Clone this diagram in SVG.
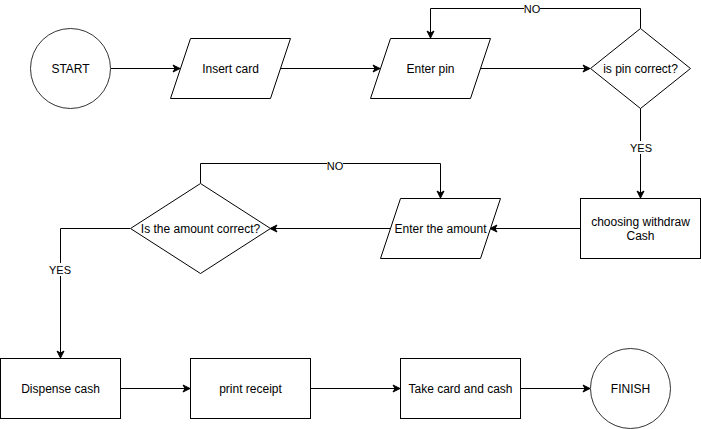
<svg xmlns="http://www.w3.org/2000/svg" width="701" height="429" viewBox="0 0 701 429">
<defs>
<marker id="arr" markerWidth="10" markerHeight="10" refX="8" refY="5" orient="auto" markerUnits="userSpaceOnUse">
<path d="M1,1.5 L8,5 L1,8.5 L3,5 Z" fill="#000" stroke="#000" stroke-width="1"/>
</marker>
</defs>
<style>
.shape{fill:#fff;stroke:#000;stroke-width:1}
.circ{fill:#fff;stroke:#333;stroke-width:1}
.t{font-family:"Liberation Sans",Arial,sans-serif;font-size:12px;fill:#000;text-anchor:middle;dominant-baseline:central}
.lbl{font-family:"Liberation Sans",Arial,sans-serif;font-size:11px;fill:#000;text-anchor:middle;dominant-baseline:central}
.c{fill:none;stroke:#000;stroke-width:1;marker-end:url(#arr)}
.bg{fill:#fff}
</style>
<rect width="701" height="429" fill="#fff"/>
<g id="connectors">
<path class="c" d="M110.5,68.5 L180,68.5"/>
<path class="c" d="M280,68.5 L380,68.5"/>
<path class="c" d="M480,68.5 L590,68.5"/>
<path class="c" d="M640.5,28 L640.5,8.5 L430.5,8.5 L430.5,38"/>
<path class="c" d="M640.5,108 L640.5,198"/>
<path class="c" d="M580,228.5 L490,228.5"/>
<path class="c" d="M390,228.5 L270,228.5"/>
<path class="c" d="M200.5,183 L200.5,163.5 L440.5,163.5 L440.5,198"/>
<path class="c" d="M130,228.5 L60.5,228.5 L60.5,358"/>
<path class="c" d="M120.5,388.5 L190,388.5"/>
<path class="c" d="M310.5,388.5 L400,388.5"/>
<path class="c" d="M520.5,388.5 L590,388.5"/>
<rect class="bg" x="524" y="2" width="16" height="13"/>
<text class="lbl" x="532" y="8.5">NO</text>
<rect class="bg" x="630" y="141" width="22" height="13"/>
<text class="lbl" x="641" y="147.5">YES</text>
<rect class="bg" x="327" y="157" width="16" height="13"/>
<text class="lbl" x="335" y="166">NO</text>
<rect class="bg" x="49" y="263" width="22" height="13"/>
<text class="lbl" x="60" y="269.5">YES</text>
</g>
<g id="start">
<circle class="circ" cx="70.5" cy="68.5" r="40"/>
<text class="t" x="70.5" y="68.5">START</text>
</g>
<g id="insert-card">
<polygon class="shape" points="190.5,38.5 290.5,38.5 270.5,98.5 170.5,98.5"/>
<text class="t" x="230.5" y="68.5">Insert card</text>
</g>
<g id="enter-pin">
<polygon class="shape" points="390.5,38.5 490.5,38.5 470.5,98.5 370.5,98.5"/>
<text class="t" x="430.5" y="68.5">Enter pin</text>
</g>
<g id="pin-correct">
<polygon class="shape" points="640.5,28.5 690.5,68.5 640.5,108.5 590.5,68.5"/>
<text class="t" x="640.5" y="68.5">is pin correct?</text>
</g>
<g id="withdraw">
<rect class="shape" x="580.5" y="198.5" width="120" height="60"/>
<text class="t" x="640.5" y="221.5">choosing withdraw</text>
<text class="t" x="640.5" y="235.5">Cash</text>
</g>
<g id="enter-amount">
<polygon class="shape" points="400.5,198.5 500.5,198.5 480.5,258.5 380.5,258.5"/>
<text class="t" x="440.5" y="228.5">Enter the amount</text>
</g>
<g id="amount-correct">
<polygon class="shape" points="200.5,183.5 270.5,228.5 200.5,273.5 130.5,228.5"/>
<text class="t" x="200.5" y="228.5">Is the amount correct?</text>
</g>
<g id="dispense">
<rect class="shape" x="0.5" y="358.5" width="120" height="60"/>
<text class="t" x="60.5" y="388.5">Dispense cash</text>
</g>
<g id="print">
<rect class="shape" x="190.5" y="358.5" width="120" height="60"/>
<text class="t" x="250.5" y="388.5">print receipt</text>
</g>
<g id="take">
<rect class="shape" x="400.5" y="358.5" width="120" height="60"/>
<text class="t" x="460.5" y="388.5">Take card and cash</text>
</g>
<g id="finish">
<circle class="circ" cx="630.5" cy="388.5" r="40"/>
<text class="t" x="630.5" y="388.5">FINISH</text>
</g>
</svg>
